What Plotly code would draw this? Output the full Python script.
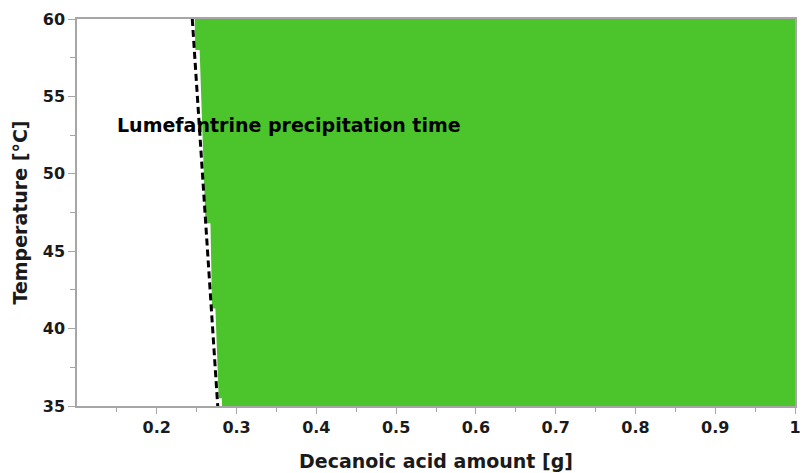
import plotly.graph_objects as go

# Boundary of the green region (left edge, stepped)
boundary_amount = [0.2475, 0.2484, 0.2537, 0.2611, 0.2673, 0.2693, 0.2735, 0.2776, 0.2817, 0.2817]
boundary_temp = [60, 58, 58, 46.8, 46.8, 41.3, 41.3, 35.5, 35.5, 35]
x_max = 1.0
# Dashed precipitation-time line
line_amount = [0.2445, 0.2764]
line_temp = [60, 35]

x_tickvals = [0.2, 0.3, 0.4, 0.5, 0.6, 0.7, 0.8, 0.9, 1.0]
x_ticktext = ["0.2", "0.3", "0.4", "0.5", "0.6", "0.7", "0.8", "0.9", "1"]
y_tickvals = [35, 40, 45, 50, 55, 60]

poly_x = boundary_amount + [x_max, x_max, boundary_amount[0]]
poly_y = boundary_temp + [35, 60, boundary_temp[0]]

FONT = "DejaVu Sans"
fig = go.Figure()
fig.add_trace(go.Scatter(x=poly_x, y=poly_y, fill="toself", fillcolor="#4cc52c",
                         mode="lines", line=dict(width=0), hoverinfo="skip", showlegend=False))
fig.add_trace(go.Scatter(x=line_amount, y=line_temp, mode="lines",
                         line=dict(color="black", width=3, dash="7px,4px"), showlegend=False))

fig.add_annotation(x=0.147, y=53.15, xref="x", yref="y", text="<b>Lumefantrine precipitation time</b>",
                   showarrow=False, xanchor="left", yanchor="middle",
                   font=dict(family=FONT, size=19, color="black"))

axis_common = dict(showline=True, linecolor="#a6a6a6", linewidth=1.5, mirror=True,
                   showgrid=False, zeroline=False, ticks="outside", tickcolor="#a6a6a6",
                   tickwidth=1.2, tickfont=dict(family=FONT, size=16, color="#1a1a1a", weight="bold"))

fig.update_xaxes(range=[0.1, 1.0], tickvals=x_tickvals, ticktext=x_ticktext, ticklen=6,
                 minor=dict(ticks="outside", tickvals=[0.15, 0.25, 0.35, 0.45, 0.55, 0.65, 0.75, 0.85, 0.95],
                            ticklen=4, tickcolor="#a6a6a6", tickwidth=1.2),
                 title=dict(text="<b>Decanoic acid amount [g]</b>", font=dict(family=FONT, size=19, color="#1a1a1a"),
                            standoff=19),
                 **axis_common)
fig.update_yaxes(range=[35, 60], tickvals=y_tickvals, ticklen=7,
                 minor=dict(ticks="outside", tickvals=[37.5, 42.5, 47.5, 52.5, 57.5],
                            ticklen=5, tickcolor="#a6a6a6", tickwidth=1.2),
                 title=dict(text="<b>Temperature [°C]</b>", font=dict(family=FONT, size=19, color="#1a1a1a"),
                            standoff=10),
                 **axis_common)

fig.update_layout(width=805, height=473, margin=dict(l=77, r=4, t=19, b=67),
                  plot_bgcolor="white", paper_bgcolor="white")
fig.write_html("out.html")
